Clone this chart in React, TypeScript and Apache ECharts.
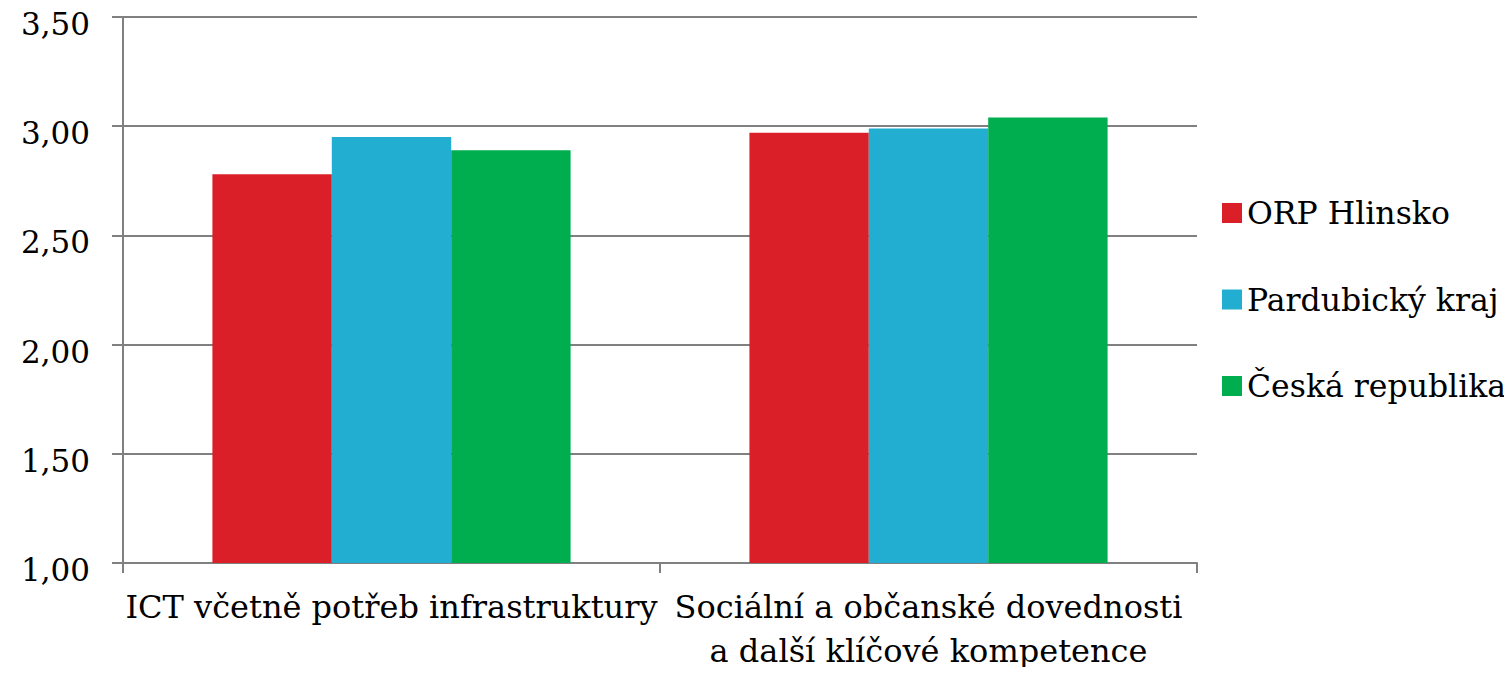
import React, { useEffect, useRef } from "react";
import * as echarts from "echarts";

const categories = [
  "ICT včetně potřeb infrastruktury",
  "Sociální a občanské dovednosti\na další klíčové kompetence",
];
const seriesNames = ["ORP Hlinsko", "Pardubický kraj", "Česká republika"];
const orpHlinsko = [2.78, 2.97];
const pardubickyKraj = [2.95, 2.99];
const ceskaRepublika = [2.89, 3.04];
const colors = ["#DA1F28", "#21AED1", "#00AE4F"];
const yTicks = { min: 1, max: 3.5, interval: 0.5 };

const FONT = "DejaVu Serif";

export default function App() {
  const ref = useRef<HTMLDivElement>(null);
  useEffect(() => {
    if (!ref.current) return;
    const chart = echarts.init(ref.current, undefined, { renderer: "svg" });
    const values = [orpHlinsko, pardubickyKraj, ceskaRepublika];
    chart.setOption({
      animation: false,
      textStyle: { fontFamily: FONT },
      grid: { left: 123, right: 315, top: 17, bottom: 112, containLabel: false },
      legend: {
        orient: "vertical",
        left: 1217,
        top: 192,
        itemWidth: 20,
        itemHeight: 20,
        itemGap: 54.5,
        icon: "rect",
        textStyle: { fontFamily: FONT, fontSize: 31.5, color: "#000" },
        data: seriesNames,
      },
      xAxis: {
        type: "category",
        data: categories,
        axisLine: { lineStyle: { color: "#808080", width: 2 } },
        axisTick: { show: true, length: 10, lineStyle: { color: "#808080", width: 2 } },
        axisLabel: {
          fontFamily: FONT,
          fontSize: 32,
          color: "#000",
          margin: 22,
          lineHeight: 44,
          interval: 0,
        },
      },
      yAxis: {
        type: "value",
        min: yTicks.min,
        max: yTicks.max,
        interval: yTicks.interval,
        axisLine: { show: true, lineStyle: { color: "#808080", width: 2 } },
        axisTick: { show: true, length: 11, lineStyle: { color: "#808080", width: 2 } },
        splitLine: { lineStyle: { color: "#808080", width: 2 } },
        axisLabel: {
          fontFamily: FONT,
          fontSize: 31,
          color: "#000",
          margin: 33,
          formatter: (v: number) => "{a|" + v.toFixed(2).replace(".", ",") + "}",
          rich: {
            a: { fontFamily: FONT, fontSize: 31, color: "#000", padding: [14, 0, 0, 0] },
          },
        },
      },
      series: seriesNames.map((name, i) => ({
        name,
        type: "bar",
        data: values[i],
        barGap: "0%",
        barCategoryGap: "33.3%",
        itemStyle: { color: colors[i] },
      })),
    });
    return () => chart.dispose();
  }, []);
  return <div ref={ref} style={{ width: 1512, height: 675, margin: -8 }} />;
}
